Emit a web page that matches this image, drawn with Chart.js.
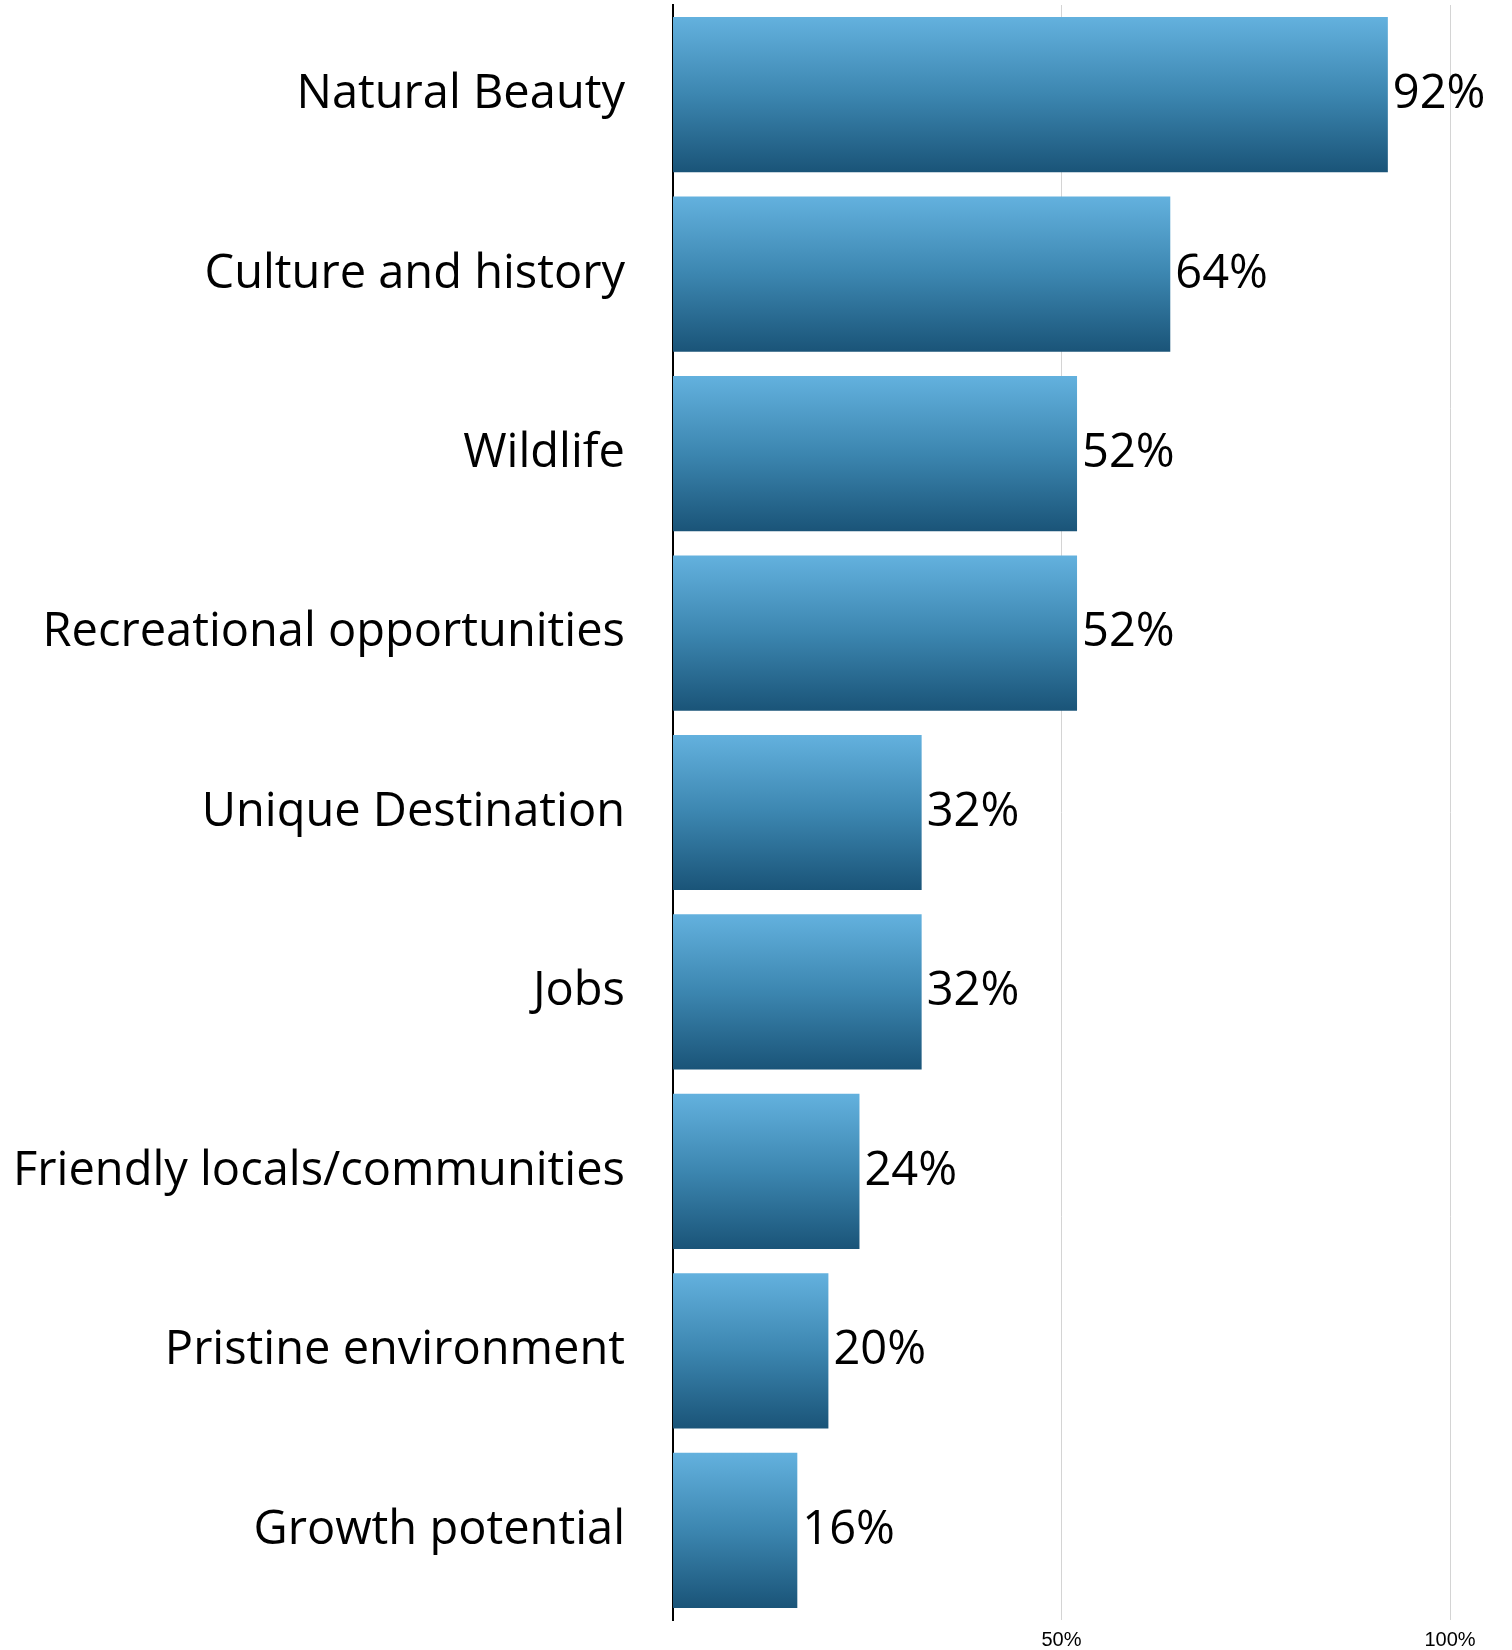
<!DOCTYPE html>
<html>
<head>
<meta charset="utf-8">
<script src="https://cdn.jsdelivr.net/npm/chart.js@4.4.0/dist/chart.umd.min.js"></script>
<style>
  html, body { margin: 0; padding: 0; background: #fff; }
  #wrap { width: 1512px; height: 1650px; position: relative; }
</style>
</head>
<body>
<div id="wrap"><canvas id="reasonsChart"></canvas></div>
<script>
const categories = [
    'Natural Beauty',
    'Culture and history',
    'Wildlife',
    'Recreational opportunities',
    'Unique Destination',
    'Jobs',
    'Friendly locals/communities',
    'Pristine environment',
    'Growth potential'
];
const shares = [92, 64, 52, 52, 32, 32, 24, 20, 16];
const xTicks = [50, 100];

const FONT = '"Open Sans", "Noto Sans", sans-serif';
const TICK_FONT = '"Liberation Sans Narrow", "Liberation Sans", sans-serif';
const LABEL_SIZE = 47;

// gradient per bar, light on top and dark at the bottom
function barGradient(context) {
    const chart = context.chart;
    const area = chart.chartArea;
    if (!area) return '#3b80a8';
    const el = context.element;
    let top, bottom;
    if (el && el.height) {
        top = el.y - el.height / 2;
        bottom = el.y + el.height / 2;
    } else {
        const yScale = chart.scales.y;
        const yc = yScale.getPixelForValue(context.dataIndex);
        const h = (area.bottom - area.top) / categories.length * 0.865;
        top = yc - h / 2;
        bottom = yc + h / 2;
    }
    const g = chart.ctx.createLinearGradient(0, top, 0, bottom);
    g.addColorStop(0, '#63b1de');
    g.addColorStop(0.5, '#3c86b0');
    g.addColorStop(1, '#1a5478');
    return g;
}

// category names left of the axis and values right of each bar
// (drawn here so the big y labels do not push the plot area down)
const barLabels = {
    id: 'barLabels',
    afterDatasetsDraw(chart) {
        const ctx = chart.ctx;
        const yScale = chart.scales.y;
        const meta = chart.getDatasetMeta(0);
        ctx.save();
        ctx.font = LABEL_SIZE + 'px ' + FONT;
        ctx.fillStyle = '#000';
        ctx.textBaseline = 'middle';

        ctx.textAlign = 'right';
        categories.forEach(function (name, i) {
            ctx.fillText(name, yScale.right - 48, yScale.getPixelForValue(i));
        });

        ctx.textAlign = 'left';
        meta.data.forEach(function (bar, i) {
            ctx.fillText(shares[i] + '%', bar.x + 5, bar.y);
        });
        ctx.restore();
    }
};

new Chart(document.getElementById('reasonsChart'), {
    type: 'bar',
    data: {
        labels: categories,
        datasets: [{
            data: shares,
            backgroundColor: barGradient,
            borderWidth: 0,
            barPercentage: 0.865,
            categoryPercentage: 1
        }]
    },
    options: {
        indexAxis: 'y',
        responsive: true,
        maintainAspectRatio: false,
        animation: false,
        layout: { padding: { top: 5, right: 62, bottom: 0, left: 0 } },
        plugins: {
            legend: { display: false },
            tooltip: { enabled: false }
        },
        scales: {
            x: {
                min: 0,
                max: 100,
                afterBuildTicks: function (scale) {
                    scale.ticks = xTicks.map(v => ({ value: v }));
                },
                afterFit: function (scale) { scale.height = 30; },
                grid: { color: '#d4d4d4', lineWidth: 1, drawTicks: false },
                border: { display: false },
                ticks: {
                    padding: 8,
                    color: '#000',
                    font: { family: TICK_FONT, size: 20 },
                    callback: v => v + '%'
                }
            },
            y: {
                afterFit: function (scale) { scale.width = 673; },
                grid: { display: false },
                border: { display: true, color: '#000', width: 2 },
                ticks: { display: false }
            }
        }
    },
    plugins: [barLabels]
});
</script>
</body>
</html>
